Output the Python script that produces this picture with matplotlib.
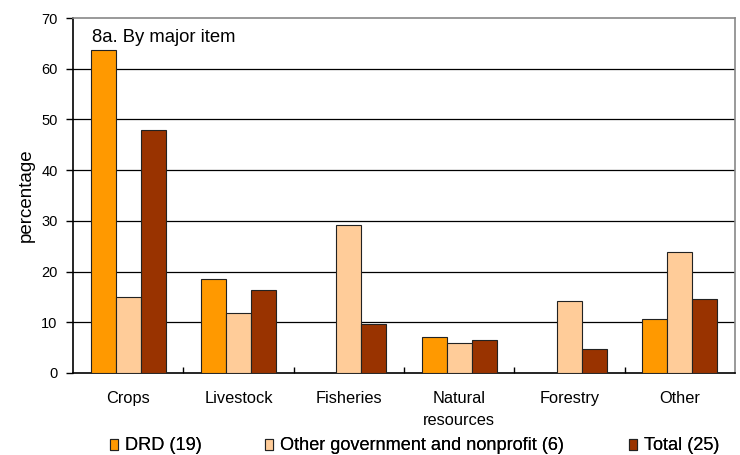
import matplotlib
matplotlib.use("Agg")
import matplotlib.pyplot as plt
import numpy as np

plt.rcParams['font.family'] = ['Liberation Sans', 'DejaVu Sans']

categories = ["Crops", "Livestock", "Fisheries", "Natural\nresources", "Forestry", "Other"]
series_names = ["DRD (19)", "Other government and nonprofit (6)", "Total (25)"]
drd = [63.7, 18.5, 0, 7.1, 0, 10.7]
other_gov = [15.0, 11.8, 29.2, 5.9, 14.2, 23.9]
total = [47.9, 16.4, 9.7, 6.5, 4.7, 14.6]
colors = ["#FF9900", "#FFCC99", "#993300"]
yticks = [0, 10, 20, 30, 40, 50, 60, 70]

fig = plt.figure(figsize=(7.4, 4.55), dpi=100)
ax = fig.add_axes([73/740, 1 - 373/455, 662/740, 355/455])

x = np.arange(len(categories))
w = 0.227
handles = []
for i, (vals, c, name) in enumerate(zip([drd, other_gov, total], colors, series_names)):
    b = ax.bar(x + (i - 1) * w, vals, width=w, color=c, edgecolor="#222222",
               linewidth=0.8, label=name, zorder=3)
    handles.append(b)

ax.set_xlim(-0.5, len(categories) - 0.5)
ax.set_ylim(0, 70)
ax.set_yticks(yticks)
ax.set_yticklabels([str(t) for t in yticks], fontsize=10.5)
for t in yticks[1:-1]:
    ax.axhline(t, color="black", linewidth=0.9, zorder=1)

ax.set_xticks(x)
ax.set_xticklabels(categories, fontsize=11.8, linespacing=1.62)
ax.tick_params(axis='x', length=0, pad=13)
ax.set_xticks(np.arange(0.5, len(categories) - 0.5, 1), minor=True)
ax.tick_params(axis='x', which='minor', direction='in', length=4, width=1)
ax.tick_params(axis='y', direction='out', length=5, width=1, pad=6)

ax.spines['left'].set_color('black')
ax.spines['bottom'].set_color('black')
ax.spines['top'].set_color('#888888')
ax.spines['right'].set_color('#888888')
for s in ax.spines.values():
    s.set_linewidth(1.2)

ax.set_ylabel("percentage", fontsize=13.5, labelpad=5)
ax.text(0.029, 0.968, "8a. By major item", transform=ax.transAxes,
        fontsize=13.3, va='top', ha='left')

legend_x = [108, 263, 627]
for hx, h, name in zip(legend_x, handles, series_names):
    leg = fig.legend([h], [name], loc='center left', bbox_to_anchor=(hx/740, 1 - 446/455),
                     frameon=False, fontsize=13.1, handlelength=0.45, handleheight=0.55,
                     handletextpad=0.4, borderpad=0.1, borderaxespad=0.0)
    fig.add_artist(leg)

fig.savefig("out.png", dpi=100)
